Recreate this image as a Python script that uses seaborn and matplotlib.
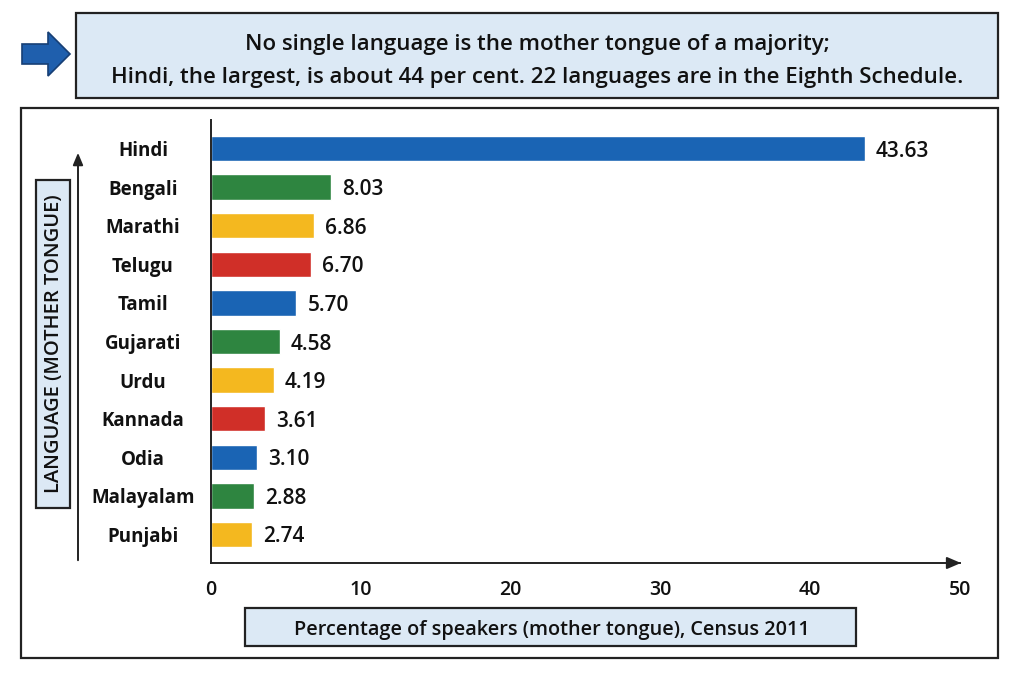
import matplotlib
matplotlib.use("Agg")
import matplotlib.pyplot as plt
from matplotlib.patches import Rectangle, FancyArrow, FancyArrowPatch
from matplotlib.transforms import blended_transform_factory
import seaborn as sns
import pandas as pd

languages = ["Hindi", "Bengali", "Marathi", "Telugu", "Tamil", "Gujarati",
             "Urdu", "Kannada", "Odia", "Malayalam", "Punjabi"]
percentages = [43.63, 8.03, 6.86, 6.70, 5.70, 4.58, 4.19, 3.61, 3.10, 2.88, 2.74]
value_labels = ["43.63", "8.03", "6.86", "6.70", "5.70", "4.58", "4.19",
                "3.61", "3.10", "2.88", "2.74"]
x_ticks = [0, 10, 20, 30, 40, 50]
title_lines = ["No single language is the mother tongue of a majority;",
               "Hindi, the largest, is about 44 per cent. 22 languages are in the Eighth Schedule."]
x_label = "Percentage of speakers (mother tongue), Census 2011"
y_label = "LANGUAGE (MOTHER TONGUE)"

BLUE, GREEN, YELLOW, RED = "#1a64b4", "#2e8540", "#f4b81f", "#d02f28"
cycle = [BLUE, GREEN, YELLOW, RED]
colors = [cycle[i % 4] for i in range(len(languages))]
BOXFILL = "#dce9f5"
EDGE = "#222222"
TXT = "#111111"

sns.set_theme(style="white")
plt.rcParams["font.family"] = ["Open Sans", "Noto Sans", "DejaVu Sans"]

W, H = 1024, 683
fig = plt.figure(figsize=(W / 100, H / 100), dpi=100)

def fx(px):
    return px / W

def fy(py):
    return 1 - py / H

ax = fig.add_axes([fx(211), fy(563), fx(960) - fx(211), fy(120) - fy(563)])

df = pd.DataFrame({"language": languages, "pct": percentages})
sns.barplot(data=df, x="pct", y="language", hue="language", palette=colors,
            order=languages, hue_order=languages, dodge=False, legend=False,
            width=0.66, saturation=1, ax=ax)

ax.set_xlim(0, 50)
ax.set_ylim(10.74, -0.74)
ax.set_xlabel("")
ax.set_ylabel("")
for s in ["top", "right"]:
    ax.spines[s].set_visible(False)
for s in ["left", "bottom"]:
    ax.spines[s].set_color(EDGE)
    ax.spines[s].set_linewidth(1.4)
ax.set_xticks(x_ticks)
ax.set_xticklabels([str(t) for t in x_ticks], fontsize=14, fontweight="semibold", color=TXT)
ax.tick_params(axis="x", direction="inout", length=9, width=1.2, color=EDGE, pad=8)
ax.tick_params(axis="y", length=0, pad=0)
ax.set_yticklabels([])

# language labels centered
trans = blended_transform_factory(fig.transFigure, ax.transData)
for i, lang in enumerate(languages):
    ax.text(fx(143), i, lang, transform=trans, ha="center", va="center_baseline",
            fontsize=13.5, fontweight="bold", color=TXT)

# value labels
for i, (v, lab) in enumerate(zip(percentages, value_labels)):
    ax.annotate(lab, xy=(v, i), xytext=(8, 0), textcoords="offset points",
                ha="left", va="center_baseline", fontsize=15, fontweight="semibold", color=TXT)

# x-axis arrowhead
ax.annotate("", xy=(1.005, 0), xycoords="axes fraction", xytext=(0.98, 0),
            arrowprops=dict(arrowstyle="-|>,head_length=0.7,head_width=0.3",
                            color=EDGE, lw=1.4))

# main frame
fig.add_artist(Rectangle((fx(21), fy(658)), fx(998) - fx(21), fy(108) - fy(658),
                         transform=fig.transFigure, fill=False, edgecolor=EDGE, lw=1.6))

# banner
fig.add_artist(Rectangle((fx(76), fy(98)), fx(998) - fx(76), fy(13) - fy(98),
                         transform=fig.transFigure, facecolor=BOXFILL, edgecolor=EDGE, lw=1.6))
fig.text(fx(537), fy(42), title_lines[0], ha="center", va="center_baseline", fontsize=16,
         fontweight="semibold", color=TXT)
fig.text(fx(537), fy(75), title_lines[1], ha="center", va="center_baseline", fontsize=16,
         fontweight="semibold", color=TXT)

# block arrow
fig.add_artist(FancyArrow(fx(22), fy(54), fx(48) - fx(22), 0, width=(fy(44) - fy(64)),
                          head_width=(fy(32) - fy(76)), head_length=fx(70) - fx(48),
                          length_includes_head=False, transform=fig.transFigure,
                          facecolor="#1f5fad", edgecolor="#173f75", lw=1.2))

# y label box
fig.add_artist(Rectangle((fx(36), fy(508)), fx(70) - fx(36), fy(180) - fy(508),
                         transform=fig.transFigure, facecolor=BOXFILL, edgecolor=EDGE, lw=1.6))
fig.text(fx(54), fy(344), y_label, rotation=90, ha="center", va="center",
         fontsize=14.5, fontweight="semibold", color=TXT)

# vertical arrow
fig.add_artist(FancyArrowPatch((fx(78), fy(563)), (fx(78), fy(150)),
                               transform=fig.transFigure,
                               arrowstyle="-|>,head_length=0.6,head_width=0.25",
                               color=EDGE, lw=1.4, mutation_scale=12))

# x label box
fig.add_artist(Rectangle((fx(245), fy(646)), fx(856) - fx(245), fy(608) - fy(646),
                         transform=fig.transFigure, facecolor=BOXFILL, edgecolor=EDGE, lw=1.6))
fig.text(fx(552), fy(627), x_label, ha="center", va="center_baseline", fontsize=14.3,
         fontweight="semibold", color=TXT)

fig.savefig("out.png", dpi=100)
